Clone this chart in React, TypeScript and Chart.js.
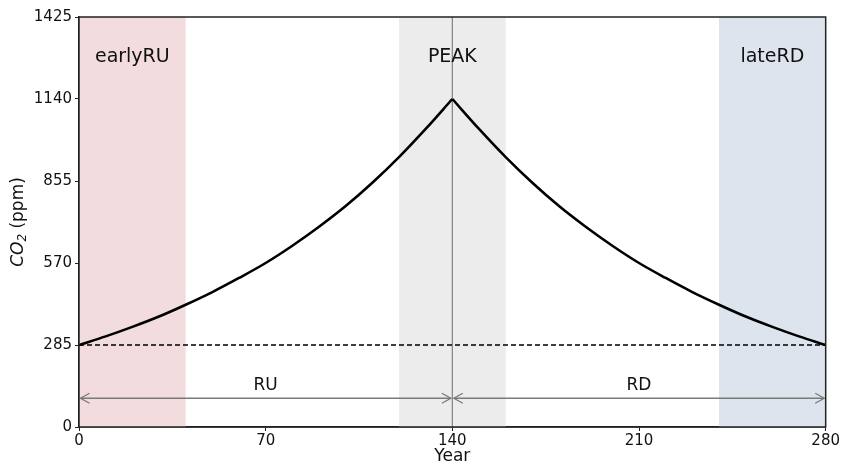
import React, { useEffect, useRef } from "react";
import { Chart, registerables } from "chart.js";

Chart.register(...registerables);

// ---- data ----
const risingYears = [0, 10, 20, 30, 40, 50, 60, 70, 80, 90, 100, 110, 120, 130, 140];
const risingCO2 = [285, 315, 348, 384, 425, 469, 518, 570, 630, 696, 768, 849, 938, 1036, 1140];
const fallingYears = [140, 150, 160, 170, 180, 190, 200, 210, 220, 230, 240, 250, 260, 270, 280];
const fallingCO2 = [1140, 1036, 938, 849, 768, 696, 630, 570, 518, 469, 425, 384, 348, 315, 285];

const baselineCO2 = 285;
const peakYear = 140;

const xTicks = [0, 70, 140, 210, 280];
const yTicks = [0, 285, 570, 855, 1140, 1425];

const bandLabels = ["earlyRU", "PEAK", "lateRD"];
const bandStarts = [0, 120, 240];
const bandEnds = [40, 160, 280];
const bandLabelYear = [20, 140, 260];
const bandLabelCO2 = 1285;

const phaseLabels = ["RU", "RD"];
const phaseStarts = [0, 140];
const phaseEnds = [140, 280];
const phaseLabelYear = [70, 210];
const phaseArrowCO2 = 100;
const phaseLabelCO2 = 145;

// ---- styles ----
const bandColors = ["#f2dcdd", "#ececec", "#dde4ee"];
const FONT = "'DejaVu Sans', sans-serif";

const decorPlugin = {
  id: "decor",
  beforeDatasetsDraw(chart: any) {
    const { ctx, chartArea, scales } = chart;
    const xs = scales.x;
    ctx.save();
    ctx.beginPath();
    ctx.rect(chartArea.left, chartArea.top, chartArea.right - chartArea.left, chartArea.bottom - chartArea.top);
    ctx.clip();
    for (let i = 0; i < bandLabels.length; i++) {
      const x0 = xs.getPixelForValue(bandStarts[i]);
      const x1 = xs.getPixelForValue(bandEnds[i]);
      ctx.fillStyle = bandColors[i];
      ctx.fillRect(x0, chartArea.top, x1 - x0, chartArea.bottom - chartArea.top);
    }
    ctx.restore();
  },
  afterDatasetsDraw(chart: any) {
    const { ctx, chartArea, scales } = chart;
    const xs = scales.x, ys = scales.y;
    ctx.save();
    // band labels
    ctx.fillStyle = "#111";
    ctx.font = `19px ${FONT}`;
    ctx.textAlign = "center";
    ctx.textBaseline = "middle";
    for (let i = 0; i < bandLabels.length; i++) {
      ctx.fillText(bandLabels[i], xs.getPixelForValue(bandLabelYear[i]), ys.getPixelForValue(bandLabelCO2));
    }
    // phase arrows
    ctx.strokeStyle = "#7a7a7a";
    ctx.lineWidth = 1.3;
    const ay = ys.getPixelForValue(phaseArrowCO2);
    const head = (x: number, dir: number) => {
      ctx.beginPath();
      ctx.moveTo(x + dir * 9, ay - 5);
      ctx.lineTo(x, ay);
      ctx.lineTo(x + dir * 9, ay + 5);
      ctx.stroke();
    };
    for (let i = 0; i < phaseLabels.length; i++) {
      const x0 = xs.getPixelForValue(phaseStarts[i]) + 1.5;
      const x1 = xs.getPixelForValue(phaseEnds[i]) - 1.5;
      ctx.beginPath();
      ctx.moveTo(x0, ay);
      ctx.lineTo(x1, ay);
      ctx.stroke();
      head(x0, 1);
      head(x1, -1);
      ctx.fillStyle = "#111";
      ctx.font = `17px ${FONT}`;
      ctx.fillText(phaseLabels[i], xs.getPixelForValue(phaseLabelYear[i]), ys.getPixelForValue(phaseLabelCO2));
    }
    // frame
    ctx.strokeStyle = "#222";
    ctx.lineWidth = 1.5;
    ctx.strokeRect(chartArea.left, chartArea.top, chartArea.right - chartArea.left, chartArea.bottom - chartArea.top);
    // axis titles
    ctx.fillStyle = "#111";
    ctx.font = `17px ${FONT}`;
    ctx.textAlign = "center";
    ctx.textBaseline = "middle";
    ctx.fillText("Year", (chartArea.left + chartArea.right) / 2, 457);
    // y title: italic CO with subscript 2
    const cy = (chartArea.top + chartArea.bottom) / 2;
    ctx.translate(19, cy);
    ctx.rotate(-Math.PI / 2);
    ctx.textAlign = "left";
    const f1 = `italic 17px ${FONT}`;
    const f2 = `italic 12px ${FONT}`;
    const f3 = `17px ${FONT}`;
    ctx.font = f1; const w1 = ctx.measureText("CO").width;
    ctx.font = f2; const w2 = ctx.measureText("2").width;
    ctx.font = f3; const w3 = ctx.measureText(" (ppm)").width;
    let x = -(w1 + w2 + w3) / 2;
    ctx.font = f1; ctx.fillText("CO", x, 0); x += w1;
    ctx.font = f2; ctx.fillText("2", x, 4); x += w2;
    ctx.font = f3; ctx.fillText(" (ppm)", x, 0);
    ctx.restore();
  },
};

export default function App() {
  const ref = useRef<HTMLCanvasElement | null>(null);
  useEffect(() => {
    if (!ref.current) return;
    const chart = new Chart(ref.current, {
      type: "line",
      data: {
        datasets: [
          {
            data: risingYears.map((x, i) => ({ x, y: risingCO2[i] })),
            borderColor: "#000",
            borderWidth: 2.6,
            pointRadius: 0,
            cubicInterpolationMode: "monotone",
            order: 0,
          },
          {
            data: fallingYears.map((x, i) => ({ x, y: fallingCO2[i] })),
            borderColor: "#000",
            borderWidth: 2.6,
            pointRadius: 0,
            cubicInterpolationMode: "monotone",
            order: 0,
          },
          {
            data: [{ x: xTicks[0], y: baselineCO2 }, { x: xTicks[xTicks.length - 1], y: baselineCO2 }],
            borderColor: "#000",
            borderWidth: 1.3,
            borderDash: [5, 3],
            pointRadius: 0,
            order: 1,
          },
          {
            data: [{ x: peakYear, y: yTicks[0] }, { x: peakYear, y: yTicks[yTicks.length - 1] }],
            borderColor: "#8a8a8a",
            borderWidth: 1.3,
            pointRadius: 0,
            order: 2,
          },
        ],
      },
      options: {
        animation: false,
        responsive: false,
        maintainAspectRatio: false,
        layout: { padding: { top: 17, right: 14, left: 0, bottom: 0 } },
        plugins: { legend: { display: false }, tooltip: { enabled: false } },
        scales: {
          x: {
            type: "linear",
            min: xTicks[0],
            max: xTicks[xTicks.length - 1],
            afterBuildTicks: (s: any) => { s.ticks = xTicks.map((v) => ({ value: v })); },
            afterFit: (s: any) => { s.height = 39; },
            grid: { drawOnChartArea: false, drawTicks: true, tickLength: 4, color: "#222" },
            border: { display: true, color: "#222", width: 1.5 },
            ticks: { color: "#111", font: { family: FONT, size: 15 }, padding: 1, maxRotation: 0, callback: (v: any) => String(v) },
          },
          y: {
            type: "linear",
            min: yTicks[0],
            max: yTicks[yTicks.length - 1],
            afterBuildTicks: (s: any) => { s.ticks = yTicks.map((v) => ({ value: v })); },
            afterFit: (s: any) => { s.width = 79; },
            grid: { drawOnChartArea: false, drawTicks: true, tickLength: 4, color: "#222" },
            border: { display: true, color: "#222", width: 1.5 },
            ticks: { color: "#111", font: { family: FONT, size: 15 }, padding: 3, callback: (v: any) => String(v) },
          },
        },
      },
      plugins: [decorPlugin],
    } as any);
    return () => chart.destroy();
  }, []);
  return (
    <div style={{ position: "absolute", left: 0, top: 0, width: 841, height: 466, background: "#fff" }}>
      <canvas ref={ref} width={841} height={466} style={{ display: "block" }} />
    </div>
  );
}
